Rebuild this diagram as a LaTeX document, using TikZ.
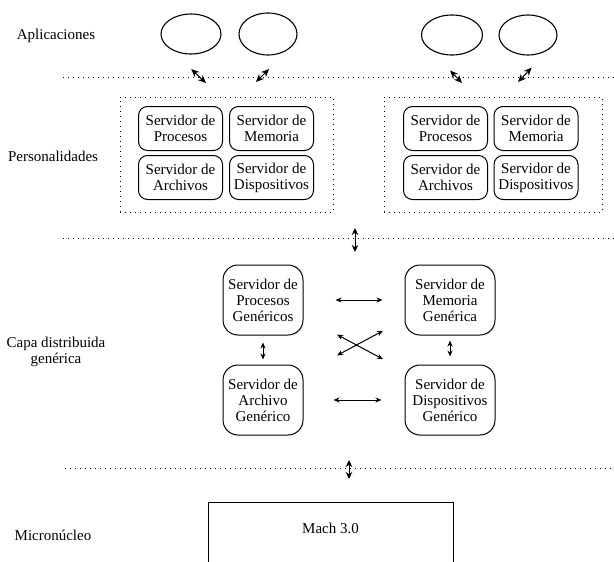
\documentclass[tikz,border=0pt]{standalone}
\usepackage{fontspec}
\setmainfont{Liberation Serif}
\usetikzlibrary{shapes.geometric,arrows.meta}

\begin{document}
\begin{tikzpicture}[x=1pt,y=-1pt,
    every node/.style={font=\fontsize{15}{16}\selectfont},
    app/.style={draw, ellipse, line width=1.1pt, minimum width=60, minimum height=40},
    srv/.style={draw, rounded corners=9, line width=1pt, minimum width=84, minimum height=44, align=center, inner sep=1pt},
    gen/.style={draw, rounded corners=15, line width=1pt, minimum height=70, align=center, inner sep=2pt},
    sepline/.style={line width=1pt, dash pattern=on 1pt off 4pt},
    biarr/.style={line width=1pt, {Stealth[length=6pt,width=5pt]}-{Stealth[length=6pt,width=5pt]}},
    midarr/.style={line width=1pt, {Stealth[length=7pt,width=6.5pt]}-{Stealth[length=7pt,width=6.5pt]}},
    diagarr/.style={line width=1pt, {Stealth[length=8pt,width=7pt]}-{Stealth[length=8pt,width=7pt]}}]
                    \useasboundingbox (0,0) rectangle (614,562);
                    \clip (0,0) rectangle (614,562);
                    % capas
                    \node (apl) at (56,36) {Aplicaciones};
                    \node (per) at (53,156) {Personalidades};
                    \node[align=center] (capa) at (56,352) {Capa distribuida\\genérica};
                    \node (mic) at (53,535) {Micronúcleo};
                    \draw[sepline] (63,77) -- (614,77);
                    \draw[sepline] (63,238) -- (614,238);
                    \draw[sepline] (65,468) -- (614,468);
                    % aplicaciones
                    \node[app] (app1) at (191,34) {};
                    \node[app, minimum width=58, minimum height=42] (app2) at (268,34) {};
                    \node[app, minimum width=61] (app3) at (452,35) {};
                    \node[app, minimum width=58] (app4) at (528,35) {};
                    \coordinate (k1) at (206,83);
                    \coordinate (k2) at (256,82);
                    \coordinate (k3) at (462,83);
                    \coordinate (k4) at (518,82);
                    \draw[diagarr, shorten <=30pt] (app1.south west) -- (k1);
                    \draw[diagarr, shorten <=28pt] (app2.south east) -- (k2);
                    \draw[diagarr, shorten <=29pt] (app3.south west) -- (k3);
                    \draw[diagarr, shorten <=25pt] (app4.south east) -- (k4);
                    % personalidades
                    \node[draw, sepline, minimum width=213, minimum height=115] (per1) at (226.5,154.5) {};
                    \node[draw, sepline, minimum width=218, minimum height=115] (per2) at (493,154.5) {};
                    \node[srv] (proc1) at (180.5,128.5) {Servidor de\\Procesos};
                    \node[srv] (mem1) at (271.5,128.5) {Servidor de\\Memoria};
                    \node[srv] (arch1) at (180.5,177.5) {Servidor de\\Archivos};
                    \node[srv] (disp1) at (271.5,177.5) {Servidor de\\Dispositivos};
                    \node[srv] (proc2) at (445.5,128.5) {Servidor de\\Procesos};
                    \node[srv] (mem2) at (536,128.5) {Servidor de\\Memoria};
                    \node[srv] (arch2) at (445.5,177.5) {Servidor de\\Archivos};
                    \node[srv] (disp2) at (536,177.5) {Servidor de\\Dispositivos};
                    \coordinate (t1) at (355,228);
                    \coordinate (t2) at (355,252);
                    \draw[midarr] (t1) -- (t2);
                    % capa distribuida
                    \node[gen, minimum width=80] (pg) at (263,300) {Servidor de\\Procesos\\Genéricos};
                    \node[gen, minimum width=90] (mg) at (450,300) {Servidor de\\Memoria\\Genérica};
                    \node[gen, minimum width=80] (ag) at (263,400) {Servidor de\\Archivo\\Genérico};
                    \node[gen, minimum width=90] (dg) at (450,400) {Servidor de\\Dispositivos\\Genérico};
                    \draw[biarr, shorten <=32pt, shorten >=22pt] (pg) -- (mg);
                    \draw[biarr, shorten <=30pt, shorten >=23pt] (ag) -- (dg);
                    \draw[biarr, shorten <=7pt, shorten >=5pt] (pg) -- (ag);
                    \draw[biarr, shorten <=5pt, shorten >=8pt] (mg) -- (dg);
                    \draw[biarr, shorten <=84pt, shorten >=76pt] ([yshift=5pt]pg.center) -- ([yshift=5pt]dg.center);
                    \draw[biarr, shorten <=84pt, shorten >=76pt] ([yshift=5pt]ag.center) -- ([yshift=5pt]mg.center);
                    \coordinate (b1) at (349,460);
                    \coordinate (b2) at (349,479);
                    \draw[midarr] (b1) -- (b2);
                    % micronucleo
                    \node[draw, line width=1pt, minimum width=245, minimum height=120, anchor=north] (mach) at (330.5,502) {};
                    \node (machtxt) at ([yshift=-26pt]mach.north) {Mach 3.0};
                \end{tikzpicture}
\end{document}
